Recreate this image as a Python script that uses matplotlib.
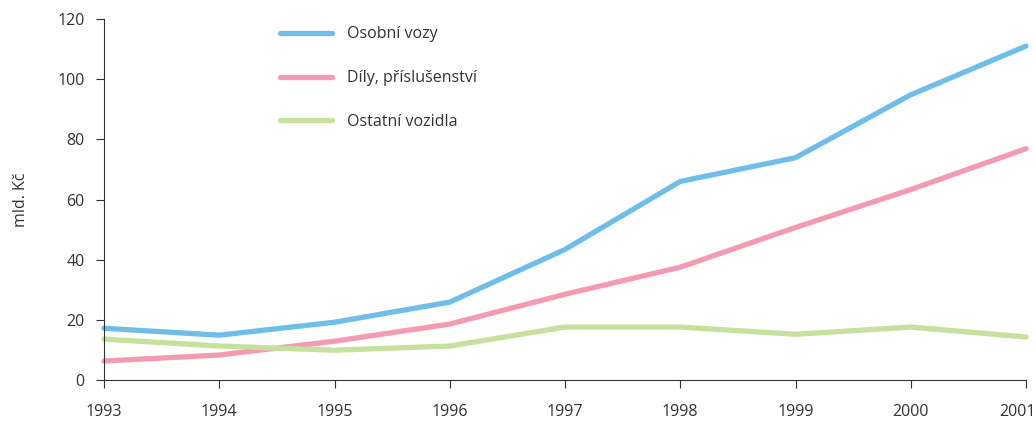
import matplotlib
matplotlib.use("Agg")
import matplotlib.pyplot as plt
from matplotlib.transforms import ScaledTranslation

years = [1993, 1994, 1995, 1996, 1997, 1998, 1999, 2000, 2001]
osobni = [17.2, 14.9, 19.2, 25.9, 43.4, 66.0, 73.9, 94.8, 111.0]
dily = [6.3, 8.3, 12.9, 18.6, 28.5, 37.5, 50.7, 63.3, 76.9]
ostatni = [13.6, 11.3, 9.9, 11.3, 17.6, 17.6, 15.2, 17.6, 14.3]
labels = ["Osobní vozy", "Díly, příslušenství", "Ostatní vozidla"]
colors = ["#6fbde9", "#f59ab3", "#c6e09e"]
yticks = [0, 20, 40, 60, 80, 100, 120]

plt.rcParams['font.family'] = ['Open Sans', 'DejaVu Sans']
fig = plt.figure(figsize=(10.36, 4.21), dpi=100)
ax = fig.add_axes([104/1036, 1-380/421, 922/1036, 361/421])

for vals, lab, c in zip([osobni, dily, ostatni], labels, colors):
    ax.plot(years, vals, color=c, lw=3.8, label=lab, solid_capstyle='round', clip_on=False)

ax.set_xlim(1993, 2001)
ax.set_ylim(0, 120)
ax.set_xticks(years)
ax.set_yticks(yticks)
ax.tick_params(axis='both', direction='out', length=6, width=0.8, color='#333333',
               labelsize=11.5, labelcolor='#333333')
ax.tick_params(axis='x', pad=11)
ax.tick_params(axis='y', pad=8)
for s in ['top', 'right']:
    ax.spines[s].set_visible(False)
for s in ['left', 'bottom']:
    ax.spines[s].set_color('#333333')
    ax.spines[s].set_linewidth(0.8)
ax.set_ylabel("mld. Kč", fontsize=11.5, color='#333333', labelpad=20)

# keep the last year label inside the picture
last = ax.get_xticklabels()[-1]
last.set_transform(last.get_transform() + ScaledTranslation(-9/100, 0, fig.dpi_scale_trans))

leg = ax.legend(loc='upper left', bbox_to_anchor=(0.175, 1.02), frameon=False,
                fontsize=11.5, handlelength=3.3, handletextpad=0.9, labelspacing=1.75)
for t in leg.get_texts():
    t.set_color('#333333')

fig.savefig("out.png", dpi=100)
